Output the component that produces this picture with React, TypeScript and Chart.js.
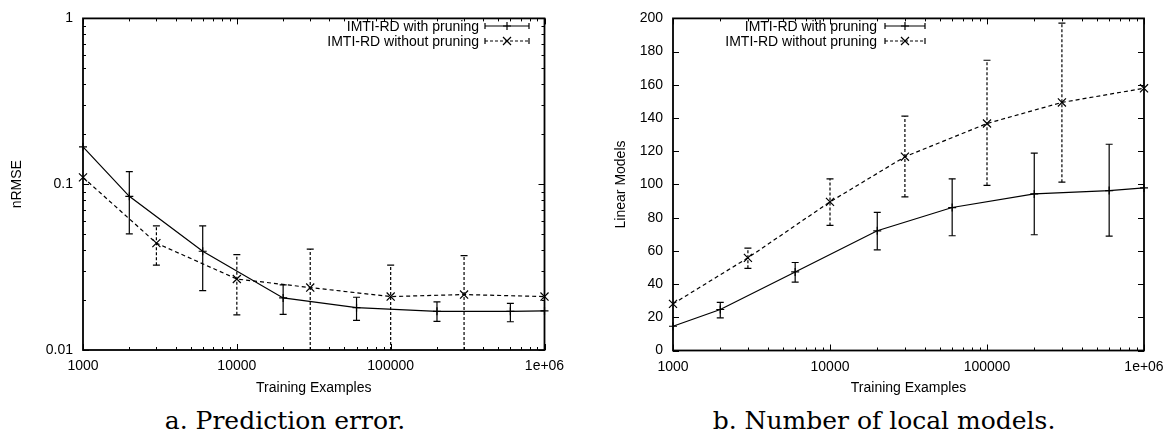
import React, { useEffect, useRef } from "react";
import { Chart, registerables } from "chart.js";
Chart.register(...registerables);

// ---------- data ----------
const X_PRUN = [1000, 2000, 6000, 20000, 60000, 200000, 600000, 1000000];
const X_NOPRUN = [1000, 3000, 10000, 30000, 100000, 300000, 1000000];

const ERR_PRUN = [0.168, 0.0845, 0.0394, 0.0206, 0.018, 0.0171, 0.0171, 0.0172];
const ERR_PRUN_LO = [0.168, 0.0502, 0.0228, 0.0164, 0.0151, 0.0149, 0.0148, 0.0172];
const ERR_PRUN_HI = [0.168, 0.119, 0.056, 0.0247, 0.0208, 0.0195, 0.0191, 0.0172];

const ERR_NOPRUN = [0.11, 0.0441, 0.0268, 0.0238, 0.021, 0.0216, 0.021];
const ERR_NOPRUN_LO = [0.11, 0.0325, 0.0163, 0.005, 0.005, 0.005, 0.021];
const ERR_NOPRUN_HI = [0.11, 0.056, 0.0376, 0.0406, 0.0325, 0.0371, 0.021];

const LM_PRUN = [14.6, 24.7, 47.3, 72.1, 86.1, 94.3, 96.3, 97.9];
const LM_PRUN_LO = [14.6, 19.7, 41.2, 60.6, 69.1, 69.7, 68.9, 97.9];
const LM_PRUN_HI = [14.6, 29.0, 53.0, 83.2, 103.4, 118.9, 124.2, 97.9];

const LM_NOPRUN = [28.1, 55.8, 89.5, 116.7, 136.7, 149.4, 157.9];
const LM_NOPRUN_LO = [28.1, 49.5, 75.3, 92.5, 99.5, 101.4, 157.9];
const LM_NOPRUN_HI = [28.1, 61.7, 103.4, 141.1, 174.8, 197.2, 157.9];

const SERIES_NAMES = ["IMTI-RD with pruning", "IMTI-RD without pruning"];

const X_TICKS = [
  1000, 2000, 3000, 4000, 5000, 6000, 7000, 8000, 9000,
  10000, 20000, 30000, 40000, 50000, 60000, 70000, 80000, 90000,
  100000, 200000, 300000, 400000, 500000, 600000, 700000, 800000, 900000,
  1000000,
];
const X_MAJOR = [1000, 10000, 100000, 1000000];
const X_LABELS = ["1000", "10000", "100000", "1e+06"];

const Y1_TICKS = [
  0.01, 0.02, 0.03, 0.04, 0.05, 0.06, 0.07, 0.08, 0.09,
  0.1, 0.2, 0.3, 0.4, 0.5, 0.6, 0.7, 0.8, 0.9, 1,
];
const Y1_MAJOR = [0.01, 0.1, 1];
const Y1_LABELS = ["0.01", "0.1", "1"];

const Y2_TICKS = [0, 20, 40, 60, 80, 100, 120, 140, 160, 180, 200];
const Y2_LABELS = ["0", "20", "40", "60", "80", "100", "120", "140", "160", "180", "200"];

const FONT = '"Liberation Sans", Arial, sans-serif';

type Spec = {
  width: number;
  height: number;
  plotLeft: number;
  plotRight: number;
  plotTop: number;
  plotBottom: number;
  yType: "logarithmic" | "linear";
  yMin: number;
  yMax: number;
  yTicks: number[];
  yMajor: number[];
  yLabels: string[];
  yTitle: string;
  yTitleX: number;
  xTitleY: number;
  legendTextRight: number;
  legendSample: [number, number];
  legendRows: [number, number];
  s1: { x: number[]; y: number[]; lo: number[]; hi: number[] };
  s2: { x: number[]; y: number[]; lo: number[]; hi: number[] };
};

const near = (a: number, b: number) => Math.abs(a - b) <= Math.abs(b) * 1e-6 + 1e-12;

function drawMarker(ctx: CanvasRenderingContext2D, kind: number, x: number, y: number) {
  ctx.beginPath();
  if (kind === 0) {
    ctx.moveTo(x - 4, y);
    ctx.lineTo(x + 4, y);
    ctx.moveTo(x, y - 4);
    ctx.lineTo(x, y + 4);
  } else {
    ctx.moveTo(x - 4, y - 4);
    ctx.lineTo(x + 4, y + 4);
    ctx.moveTo(x - 4, y + 4);
    ctx.lineTo(x + 4, y - 4);
  }
  ctx.stroke();
}

function makePlugin(spec: Spec) {
  const series = [spec.s1, spec.s2];
  return {
    id: "gp",
    afterDatasetsDraw(chart: any) {
      const ctx: CanvasRenderingContext2D = chart.ctx;
      const ca = chart.chartArea;
      const xs = chart.scales.x;
      const ys = chart.scales.y;
      ctx.save();
      ctx.beginPath();
      ctx.rect(ca.left, ca.top, ca.right - ca.left, ca.bottom - ca.top);
      ctx.clip();
      ctx.strokeStyle = "#000";
      ctx.lineWidth = 1.2;
      series.forEach((s, di) => {
        s.x.forEach((xv, i) => {
          if (s.lo[i] === s.hi[i]) return;
          const px = xs.getPixelForValue(xv);
          const p1 = ys.getPixelForValue(s.lo[i]);
          const p2 = ys.getPixelForValue(s.hi[i]);
          ctx.setLineDash(di === 1 ? [3, 2] : []);
          ctx.beginPath();
          ctx.moveTo(px, p1);
          ctx.lineTo(px, p2);
          ctx.stroke();
          ctx.setLineDash([]);
          ctx.beginPath();
          ctx.moveTo(px - 3.5, p1);
          ctx.lineTo(px + 3.5, p1);
          ctx.moveTo(px - 3.5, p2);
          ctx.lineTo(px + 3.5, p2);
          ctx.stroke();
        });
      });
      ctx.restore();
    },
    afterDraw(chart: any) {
      const ctx: CanvasRenderingContext2D = chart.ctx;
      const ca = chart.chartArea;
      const xs = chart.scales.x;
      const ys = chart.scales.y;
      ctx.save();
      ctx.strokeStyle = "#000";
      // tick marks (inward, mirrored)
      ctx.lineWidth = 1;
      X_TICKS.forEach((v) => {
        const px = Math.round(xs.getPixelForValue(v)) + 0.5;
        const len = X_MAJOR.some((m) => near(v, m)) ? 6 : 3;
        ctx.beginPath();
        ctx.moveTo(px, ca.bottom);
        ctx.lineTo(px, ca.bottom - len);
        ctx.moveTo(px, ca.top);
        ctx.lineTo(px, ca.top + len);
        ctx.stroke();
      });
      spec.yTicks.forEach((v) => {
        const py = Math.round(ys.getPixelForValue(v)) + 0.5;
        const len = spec.yMajor.some((m) => near(v, m)) ? 6 : 3;
        ctx.beginPath();
        ctx.moveTo(ca.left, py);
        ctx.lineTo(ca.left + len, py);
        ctx.moveTo(ca.right, py);
        ctx.lineTo(ca.right - len, py);
        ctx.stroke();
      });
      // frame
      ctx.lineWidth = 1.8;
      ctx.strokeRect(ca.left, ca.top, ca.right - ca.left, ca.bottom - ca.top);
      // axis titles
      ctx.fillStyle = "#000";
      ctx.font = `14px ${FONT}`;
      ctx.textAlign = "center";
      ctx.textBaseline = "middle";
      ctx.fillText("Training Examples", (ca.left + ca.right) / 2, spec.xTitleY);
      ctx.save();
      ctx.translate(spec.yTitleX, (ca.top + ca.bottom) / 2);
      ctx.rotate(-Math.PI / 2);
      ctx.fillText(spec.yTitle, 0, 0);
      ctx.restore();
      // legend
      ctx.textAlign = "right";
      SERIES_NAMES.forEach((name, i) => {
        const y = spec.legendRows[i];
        ctx.fillStyle = "#000";
        ctx.fillText(name, spec.legendTextRight, y + 1);
        const [a, b] = spec.legendSample;
        ctx.lineWidth = 1.2;
        ctx.setLineDash(i === 1 ? [3, 2] : []);
        ctx.beginPath();
        ctx.moveTo(a, y);
        ctx.lineTo(b, y);
        ctx.stroke();
        ctx.setLineDash([]);
        ctx.beginPath();
        ctx.moveTo(a, y - 3);
        ctx.lineTo(a, y + 3);
        ctx.moveTo(b, y - 3);
        ctx.lineTo(b, y + 3);
        ctx.stroke();
        drawMarker(ctx, i, (a + b) / 2, y);
      });
      ctx.restore();
    },
  };
}

function makeConfig(spec: Spec): any {
  const ds = (s: Spec["s1"], i: number) => ({
    label: SERIES_NAMES[i],
    data: s.x.map((x, k) => ({ x, y: s.y[k] })),
    borderColor: "#000",
    backgroundColor: "#000",
    borderWidth: 1.2,
    borderDash: i === 1 ? [4, 3] : [],
    pointStyle: i === 0 ? "cross" : "crossRot",
    pointRadius: i === 0 ? 4 : 5.7,
    pointBorderWidth: 1.2,
    pointBorderColor: "#000",
    tension: 0,
    fill: false,
    clip: false,
  });
  const tickFont = { family: FONT, size: 14 };
  return {
    type: "line",
    data: { datasets: [ds(spec.s1, 0), ds(spec.s2, 1)] },
    plugins: [makePlugin(spec)],
    options: {
      animation: false,
      responsive: false,
      maintainAspectRatio: false,
      events: [],
      layout: {
        padding: { left: 0, top: spec.plotTop, right: spec.width - spec.plotRight, bottom: 0 },
      },
      plugins: { legend: { display: false }, tooltip: { enabled: false }, title: { display: false } },
      scales: {
        x: {
          type: "logarithmic",
          min: 1000,
          max: 1000000,
          grid: { display: false, drawTicks: false },
          border: { display: false },
          afterBuildTicks: (scale: any) => {
            scale.ticks = X_TICKS.map((v) => ({ value: v }));
          },
          afterFit: (scale: any) => {
            scale.height = spec.height - spec.plotBottom;
          },
          ticks: {
            autoSkip: false,
            maxRotation: 0,
            minRotation: 0,
            padding: 8,
            color: "#000",
            font: tickFont,
            callback: (v: any) => {
              const idx = X_MAJOR.findIndex((m) => near(Number(v), m));
              return idx >= 0 ? X_LABELS[idx] : "";
            },
          },
        },
        y: {
          type: spec.yType,
          min: spec.yMin,
          max: spec.yMax,
          grid: { display: false, drawTicks: false },
          border: { display: false },
          afterBuildTicks: (scale: any) => {
            scale.ticks = spec.yTicks.map((v) => ({ value: v }));
          },
          afterFit: (scale: any) => {
            scale.width = spec.plotLeft;
          },
          ticks: {
            autoSkip: false,
            padding: 10,
            color: "#000",
            font: tickFont,
            callback: (v: any) => {
              const idx = spec.yMajor.findIndex((m) => near(Number(v), m));
              return idx >= 0 ? spec.yLabels[idx] : "";
            },
          },
        },
      },
    },
  };
}

const LEFT_SPEC: Spec = {
  width: 587,
  height: 400,
  plotLeft: 83,
  plotRight: 544.5,
  plotTop: 14,
  plotBottom: 350,
  yType: "logarithmic",
  yMin: 0.01,
  yMax: 1,
  yTicks: Y1_TICKS,
  yMajor: Y1_MAJOR,
  yLabels: Y1_LABELS,
  yTitle: "nRMSE",
  yTitleX: 17.5,
  xTitleY: 388,
  legendTextRight: 479,
  legendSample: [485, 529],
  legendRows: [26, 41],
  s1: { x: X_PRUN, y: ERR_PRUN, lo: ERR_PRUN_LO, hi: ERR_PRUN_HI },
  s2: { x: X_NOPRUN, y: ERR_NOPRUN, lo: ERR_NOPRUN_LO, hi: ERR_NOPRUN_HI },
};

const RIGHT_SPEC: Spec = {
  width: 588,
  height: 400,
  plotLeft: 86,
  plotRight: 557,
  plotTop: 14,
  plotBottom: 350.5,
  yType: "linear",
  yMin: 0,
  yMax: 200,
  yTicks: Y2_TICKS,
  yMajor: Y2_TICKS,
  yLabels: Y2_LABELS,
  yTitle: "Linear Models",
  yTitleX: 34,
  xTitleY: 388,
  legendTextRight: 290,
  legendSample: [298, 338],
  legendRows: [26, 41],
  s1: { x: X_PRUN, y: LM_PRUN, lo: LM_PRUN_LO, hi: LM_PRUN_HI },
  s2: { x: X_NOPRUN, y: LM_NOPRUN, lo: LM_NOPRUN_LO, hi: LM_NOPRUN_HI },
};

function GpChart({ spec, left }: { spec: Spec; left: number }) {
  const ref = useRef<HTMLCanvasElement | null>(null);
  useEffect(() => {
    if (!ref.current) return;
    const chart = new Chart(ref.current, makeConfig(spec));
    return () => chart.destroy();
  }, [spec]);
  return (
    <canvas
      ref={ref}
      width={spec.width}
      height={spec.height}
      style={{ position: "absolute", left, top: 0, width: spec.width, height: spec.height }}
    />
  );
}

const captionStyle = (cx: number): React.CSSProperties => ({
  position: "absolute",
  top: 408,
  left: cx,
  transform: "translateX(-50%)",
  whiteSpace: "nowrap",
  fontFamily: '"DejaVu Serif", "Liberation Serif", serif',
  fontSize: 25,
  lineHeight: "25px",
  color: "#000",
});

export default function App() {
  return (
    <div
      style={{
        position: "absolute",
        left: 0,
        top: 0,
        width: 1175,
        height: 435,
        background: "#fff",
        overflow: "hidden",
      }}
    >
      <GpChart spec={LEFT_SPEC} left={0} />
      <GpChart spec={RIGHT_SPEC} left={587} />
      <div style={captionStyle(285)}>a. Prediction error.</div>
      <div style={captionStyle(884)}>b. Number of local models.</div>
    </div>
  );
}
